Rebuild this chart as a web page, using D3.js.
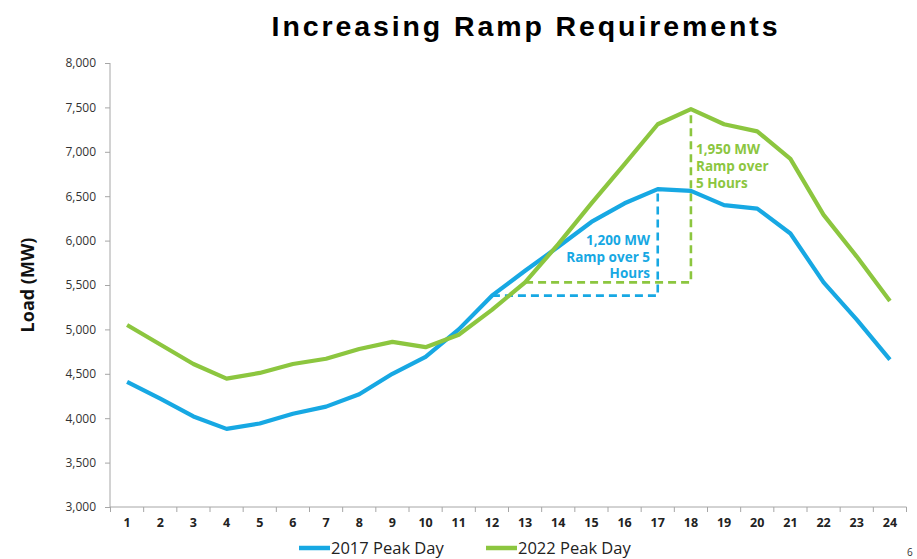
<!DOCTYPE html>
<html><head><meta charset="utf-8">
<script src="https://cdn.jsdelivr.net/npm/d3@7"></script>
<style>body{margin:0;background:#fff}svg{display:block}</style>
</head><body>
<svg id="c" width="917" height="559"></svg>
<script>
const hours = d3.range(1, 25).map(String);
const load2017 = [4410,4220,4020,3880,3940,4050,4130,4270,4500,4690,5000,5380,5660,5930,6210,6420,6580,6560,6400,6360,6080,5530,5110,4660];
const load2022 = [5050,4830,4610,4445,4510,4610,4670,4780,4860,4800,4940,5220,5530,5960,6420,6860,7310,7480,7310,7230,6920,6290,5820,5320];
const yTicks = [3000,3500,4000,4500,5000,5500,6000,6500,7000,7500,8000];
const seriesNames = ["2017 Peak Day","2022 Peak Day"];
const ramp2017 = {from:"12", to:"17", text:["1,200 MW","Ramp over 5","Hours"]};
const ramp2022 = {from:"13", to:"18", text:["1,950 MW","Ramp over","5 Hours"]};

const blue = "#17a8e3", green = "#8cc63f";
const svg = d3.select("#c");
const x = d3.scaleBand().domain(hours).range([110.5, 906.5]);
const y = d3.scaleLinear().domain([3000, 8000]).range([507, 63]);
const cx = h => x(h) + x.bandwidth()/2;

// title
svg.append("text").attr("x", 526).attr("y", 36).attr("text-anchor","middle")
  .attr("font-family","Liberation Sans, Arial, sans-serif").attr("font-weight","bold")
  .attr("font-size", 28.5).attr("letter-spacing", 2.9).attr("fill","#000")
  .text("Increasing Ramp Requirements");

// y axis
const ya = svg.append("g").attr("transform","translate(110,0)")
  .call(d3.axisLeft(y).tickValues(yTicks).tickSize(5).tickPadding(9).tickFormat(d3.format(",")));
ya.selectAll("text").attr("font-family","Open Sans, sans-serif").attr("font-size",12).attr("fill","#333");
ya.selectAll("line,path").attr("stroke","#a6a6a6");
ya.select(".domain").attr("d","M0,63V507");

// x axis
const xa = svg.append("g").attr("transform","translate(0,507)")
  .call(d3.axisBottom(x).tickSize(0).tickPadding(11));
xa.select(".domain").attr("stroke","#a6a6a6").attr("d","M110,0H906.5");
xa.selectAll("text").attr("font-family","Open Sans, sans-serif").attr("font-weight","bold").attr("font-size",12.5).attr("fill","#222");
xa.selectAll(".tickmark").data(d3.range(0,25)).enter().append("line").attr("class","tickmark")
  .attr("x1", i => 110.5 + i*x.bandwidth()).attr("x2", i => 110.5 + i*x.bandwidth())
  .attr("y1",0).attr("y2",5).attr("stroke","#a6a6a6");

// y label
svg.append("text").attr("transform","translate(34,285) rotate(-90)").attr("text-anchor","middle")
  .attr("font-family","Open Sans, sans-serif").attr("font-weight","bold").attr("font-size",18).attr("fill","#111")
  .text("Load (MW)");

// ramp dashed lines
function ramp(r, data, col) {
  const lo = data[hours.indexOf(r.from)], hi = data[hours.indexOf(r.to)];
  svg.append("path").attr("fill","none").attr("stroke",col).attr("stroke-width",2.6)
    .attr("stroke-dasharray","8,5")
    .attr("d", `M${cx(r.from)},${y(lo)}H${cx(r.to)}V${y(hi)}`);
}
ramp(ramp2017, load2017, blue);
ramp(ramp2022, load2022, green);

// lines
const line = d3.line().x((d,i)=>cx(hours[i])).y(d=>y(d));
svg.append("path").datum(load2017).attr("fill","none").attr("stroke",blue).attr("stroke-width",4.2).attr("stroke-linejoin","round").attr("d",line);
svg.append("path").datum(load2022).attr("fill","none").attr("stroke",green).attr("stroke-width",4.2).attr("stroke-linejoin","round").attr("d",line);

// annotations
const t1 = svg.append("text").attr("font-family","Open Sans, sans-serif").attr("font-weight","bold")
  .attr("font-size",13.5).attr("fill",blue).attr("text-anchor","end");
ramp2017.text.forEach((s,i)=>t1.append("tspan").attr("x",650).attr("y",245+i*16.5).text(s));
const t2 = svg.append("text").attr("font-family","Open Sans, sans-serif").attr("font-weight","bold")
  .attr("font-size",13.5).attr("fill",green).attr("text-anchor","start");
ramp2022.text.forEach((s,i)=>t2.append("tspan").attr("x",696).attr("y",154+i*17).text(s));

// legend
const leg = [{x:299, col:blue, name:seriesNames[0]},{x:486, col:green, name:seriesNames[1]}];
leg.forEach(l=>{
  svg.append("line").attr("x1",l.x).attr("x2",l.x+31).attr("y1",548).attr("y2",548).attr("stroke",l.col).attr("stroke-width",4.5);
  svg.append("text").attr("x",l.x+32).attr("y",554).attr("font-family","Open Sans, sans-serif").attr("font-size",16.5).attr("fill","#222").text(l.name);
});
svg.append("text").attr("x",907).attr("y",556).attr("font-family","Open Sans, sans-serif").attr("font-size",10).attr("fill","#333").text("6");
</script>
</body></html>
